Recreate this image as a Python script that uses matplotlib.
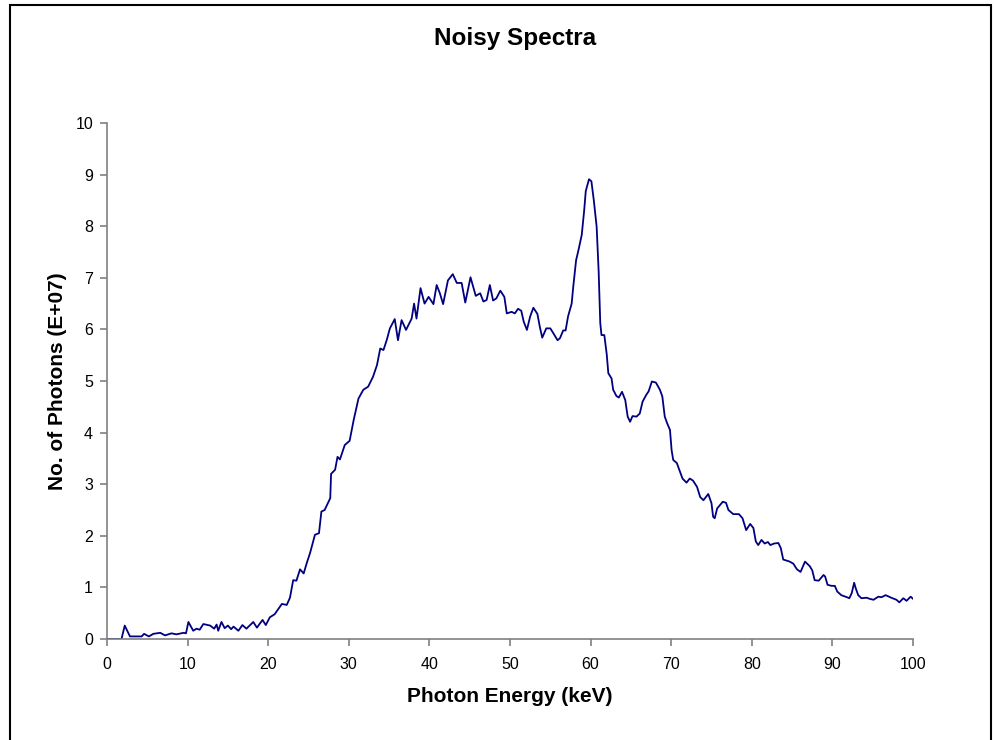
import matplotlib
matplotlib.use("Agg")
import matplotlib.pyplot as plt
from matplotlib.patches import Rectangle

plt.rcParams['font.family'] = ['Liberation Sans', 'DejaVu Sans']

# spectrum (keV, photons E+07)
energy = [0.0, 1.8, 2.2, 2.85, 4.3, 4.6, 5.2, 5.75, 6.6, 7.2, 8.0, 8.6, 9.5, 9.8,
          10.1, 10.7, 11.1, 11.5, 11.95, 12.8, 13.3, 13.6, 13.8, 14.2, 14.6, 15.0,
          15.4, 15.7, 16.3, 16.8, 17.3, 18.15, 18.6, 19.3, 19.7, 20.2, 20.8, 21.7,
          22.3, 22.7, 23.1, 23.5, 23.95, 24.4, 24.8, 25.2, 25.8, 26.3, 26.6, 27.0,
          27.7, 27.8, 28.3, 28.6, 28.9, 29.5, 30.1, 30.6, 31.2, 31.8, 32.4, 33.0,
          33.5, 33.9, 34.3, 34.7, 35.1, 35.7, 36.1, 36.55, 37.1, 37.8, 38.1, 38.4,
          38.9, 39.4, 39.9, 40.5, 40.9, 41.3, 41.7, 42.3, 42.9, 43.4, 44.0, 44.45,
          45.1, 45.75, 46.3, 46.7, 47.1, 47.5, 47.9, 48.3, 48.8, 49.3, 49.6, 50.2,
          50.6, 51.0, 51.4, 51.7, 52.1, 52.5, 52.9, 53.4, 53.7, 54.0, 54.5, 55.0,
          55.4, 55.9, 56.2, 56.6, 56.9, 57.2, 57.65, 57.85, 58.2, 58.5, 58.9, 59.2,
          59.4, 59.8, 60.1, 60.4, 60.75, 61.0, 61.2, 61.35, 61.7, 62.0, 62.2, 62.6,
          62.8, 63.2, 63.5, 63.9, 64.3, 64.6, 64.9, 65.2, 65.7, 66.1, 66.45, 66.9,
          67.2, 67.6, 68.1, 68.6, 68.9, 69.2, 69.5, 69.85, 70.05, 70.25, 70.7, 71.1,
          71.4, 71.9, 72.3, 72.7, 73.2, 73.6, 74.0, 74.6, 75.0, 75.2, 75.4, 75.7,
          76.4, 76.8, 77.1, 77.7, 78.4, 78.85, 79.3, 79.8, 80.2, 80.5, 80.8, 81.2,
          81.6, 82.0, 82.3, 82.75, 83.3, 83.6, 83.9, 84.7, 85.15, 85.6, 86.05, 86.6,
          87.2, 87.5, 87.8, 88.3, 88.9, 89.1, 89.4, 89.9, 90.3, 90.6, 91.1, 91.8,
          92.1, 92.4, 92.7, 92.9, 93.2, 93.6, 94.25, 94.6, 95.1, 95.7, 96.1, 96.6,
          97.3, 97.95, 98.3, 98.8, 99.2, 99.7, 100.0]
photons = [0.0, 0.0, 0.26, 0.05, 0.05, 0.10, 0.05, 0.10, 0.12, 0.07, 0.11, 0.09, 0.12, 0.11,
           0.33, 0.16, 0.20, 0.18, 0.29, 0.26, 0.20, 0.28, 0.16, 0.33, 0.21, 0.26,
           0.19, 0.24, 0.16, 0.27, 0.20, 0.33, 0.22, 0.37, 0.27, 0.42, 0.48, 0.68,
           0.66, 0.80, 1.14, 1.13, 1.35, 1.27, 1.48, 1.67, 2.02, 2.05, 2.47, 2.50,
           2.73, 3.20, 3.28, 3.53, 3.48, 3.76, 3.84, 4.24, 4.66, 4.83, 4.89, 5.08,
           5.31, 5.63, 5.60, 5.79, 6.02, 6.20, 5.79, 6.18, 5.99, 6.21, 6.50, 6.21,
           6.80, 6.50, 6.63, 6.49, 6.86, 6.70, 6.49, 6.95, 7.07, 6.90, 6.90, 6.52,
           7.01, 6.65, 6.70, 6.54, 6.57, 6.86, 6.56, 6.60, 6.75, 6.63, 6.31, 6.34,
           6.31, 6.40, 6.36, 6.15, 5.99, 6.25, 6.42, 6.30, 6.05, 5.84, 6.02, 6.02,
           5.92, 5.79, 5.83, 5.98, 5.98, 6.25, 6.50, 6.83, 7.34, 7.54, 7.83, 8.30,
           8.68, 8.91, 8.87, 8.50, 7.99, 7.12, 6.12, 5.89, 5.89, 5.52, 5.15, 5.05,
           4.83, 4.71, 4.68, 4.79, 4.63, 4.31, 4.21, 4.32, 4.31, 4.37, 4.60, 4.73,
           4.80, 4.99, 4.97, 4.83, 4.70, 4.31, 4.18, 4.05, 3.66, 3.47, 3.41, 3.24,
           3.11, 3.03, 3.11, 3.07, 2.95, 2.75, 2.69, 2.81, 2.63, 2.37, 2.34, 2.53,
           2.66, 2.64, 2.50, 2.42, 2.42, 2.34, 2.11, 2.23, 2.15, 1.89, 1.82, 1.92,
           1.85, 1.88, 1.82, 1.85, 1.86, 1.76, 1.54, 1.50, 1.46, 1.35, 1.30, 1.50,
           1.41, 1.33, 1.14, 1.13, 1.24, 1.21, 1.05, 1.03, 1.03, 0.92, 0.85, 0.81,
           0.79, 0.89, 1.09, 0.98, 0.85, 0.79, 0.80, 0.78, 0.76, 0.82, 0.81, 0.85,
           0.80, 0.76, 0.71, 0.79, 0.74, 0.82, 0.78]

xticks = list(range(0, 101, 10))
yticks = list(range(0, 11))

fig = plt.figure(figsize=(9.94, 7.40), dpi=100)
ax = fig.add_axes([107 / 994, 1 - 639 / 740, 806 / 994, 516 / 740])

ax.plot(energy, photons, color="#000080", linewidth=1.3, solid_joinstyle="round")

ax.set_xlim(0, 100)
ax.set_ylim(0, 10)
ax.set_xticks(xticks)
ax.set_yticks(yticks)
for s in ["top", "right"]:
    ax.spines[s].set_visible(False)
for s in ["left", "bottom"]:
    ax.spines[s].set_color("#808080")
    ax.spines[s].set_linewidth(1.2)
ax.tick_params(axis="both", colors="#808080", length=5, width=1.2, labelsize=11.5,
               labelcolor="black")
ax.tick_params(axis="x", pad=8)
ax.tick_params(axis="y", pad=5)

ax.set_xlabel("Photon Energy (keV)", fontsize=15, fontweight="bold", labelpad=11)
ax.set_ylabel("No. of Photons (E+07)", fontsize=15, fontweight="bold", labelpad=6)
fig.text(515 / 994, 1 - 39 / 740, "Noisy Spectra", fontsize=17.5, fontweight="bold",
         ha="center", va="center")

# chart frame
fig.patches.append(Rectangle((10 / 994, -0.05), 981 / 994, 1.05 - 5 / 740,
                             transform=fig.transFigure, fill=False,
                             edgecolor="black", linewidth=1.5))

fig.savefig("out.png", dpi=100)
